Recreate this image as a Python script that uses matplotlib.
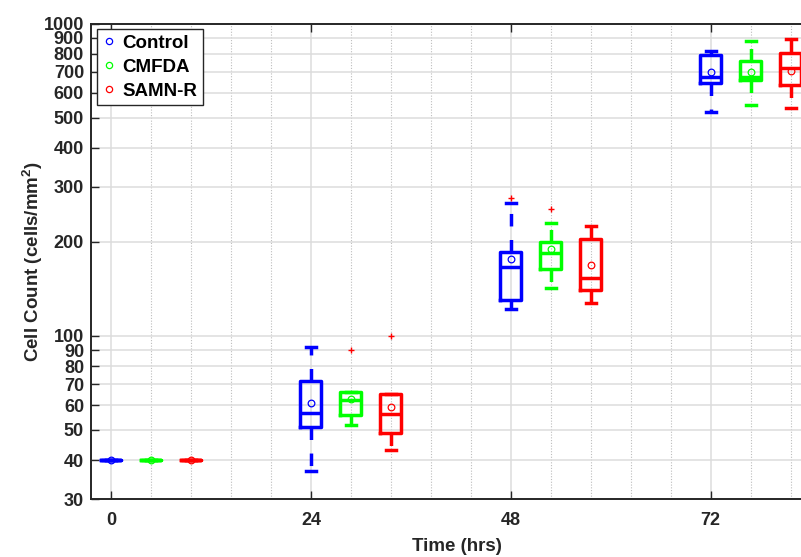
import matplotlib
matplotlib.use('Agg')
import matplotlib.pyplot as plt
from matplotlib.ticker import MultipleLocator, NullLocator, FixedLocator

plt.rcParams['font.family'] = ['Liberation Sans', 'DejaVu Sans']
plt.rcParams['font.weight'] = 'bold'
plt.rcParams['mathtext.fontset'] = 'custom'
plt.rcParams['mathtext.rm'] = 'Liberation Sans:bold'
plt.rcParams['mathtext.bf'] = 'Liberation Sans:bold'

# time points (hrs) and groups
times = [0, 24, 48, 72]
groups = ['Control', 'CMFDA', 'SAMN-R']
colors = ['#0000ff', '#00ff00', '#ff0000']

# box statistics (cells/mm^2)
control_lo = [40, 37.0, 122, 521]
control_q1 = [40, 51.0, 130, 644]
control_med = [40, 56.7, 166, 673]
control_q3 = [40, 71.6, 186, 793]
control_hi = [40, 92.2, 266, 819]
control_mean = [40, 61.0, 176, 701]
control_fliers = [[], [], [276], []]

cmfda_lo = [40, 51.9, 142, 547]
cmfda_q1 = [40, 55.9, 163, 659]
cmfda_med = [40, 62.3, 184, 673]
cmfda_q3 = [40, 66.0, 199, 760]
cmfda_hi = [40, 66.0, 229, 881]
cmfda_mean = [40, 62.8, 189, 701]
cmfda_fliers = [[], [90], [255], []]

samn_lo = [40, 43.0, 127, 536]
samn_q1 = [40, 48.7, 140, 634]
samn_med = [40, 56.0, 153, 719]
samn_q3 = [40, 65.0, 204, 807]
samn_hi = [40, 65.0, 225, 894]
samn_mean = [40, 59.3, 169, 705]
samn_fliers = [[], [100], [], []]

yticks = [30, 40, 50, 60, 70, 80, 90, 100, 200, 300, 400, 500, 600, 700, 800, 900, 1000]

data = [
    (control_lo, control_q1, control_med, control_q3, control_hi, control_mean, control_fliers),
    (cmfda_lo, cmfda_q1, cmfda_med, cmfda_q3, cmfda_hi, cmfda_mean, cmfda_fliers),
    (samn_lo, samn_q1, samn_med, samn_q3, samn_hi, samn_mean, samn_fliers),
]
group_step = 4.8
lw = 2.5

fig = plt.figure(figsize=(8.01, 5.57), dpi=100)
ax = fig.add_axes([0.1136, 0.1041, 0.914, 0.8537])
ax.set_yscale('log')

handles = []
for g, (lo, q1, med, q3, hi, mean, fl) in enumerate(data):
    stats = []
    for i in range(len(times)):
        stats.append(dict(whislo=lo[i], q1=q1[i], med=med[i], q3=q3[i],
                          whishi=hi[i], mean=mean[i], fliers=fl[i]))
    c = colors[g]
    pos = [t + g * group_step for t in times]
    ax.bxp(stats, positions=pos, widths=2.5, capwidths=1.2,
           showmeans=True, manage_ticks=False,
           boxprops=dict(color=c, linewidth=lw),
           medianprops=dict(color=c, linewidth=lw),
           whiskerprops=dict(color=c, linewidth=lw, linestyle=(0, (3.6, 3.9))),
           capprops=dict(color=c, linewidth=lw),
           meanprops=dict(marker='o', markerfacecolor='none', markeredgecolor=c,
                          markersize=4.8, markeredgewidth=0.9),
           flierprops=dict(marker='+', markeredgecolor='#ff0000', markersize=4.5,
                           markeredgewidth=1.0, linestyle='none'))
    h, = ax.plot([], [], linestyle='none', marker='o', markerfacecolor='none',
                 markeredgecolor=c, markersize=4.5, markeredgewidth=0.9)
    handles.append(h)

ax.set_xlim(-2.4, 85.5)
ax.set_ylim(30, 1000)
ax.set_xticks(times)
ax.xaxis.set_minor_locator(MultipleLocator(4.8))
ax.yaxis.set_major_locator(FixedLocator(yticks))
ax.yaxis.set_minor_locator(NullLocator())
ax.set_yticklabels([str(v) for v in yticks])

ax.set_axisbelow(True)
ax.grid(True, which='major', axis='both', color='#dcdcdc', linewidth=1.1, linestyle='-')
ax.grid(True, which='minor', axis='x', color='#bdbdbd', linewidth=0.8, linestyle=(0, (1, 1.5)))

for s in ax.spines.values():
    s.set_color('#262626')
    s.set_linewidth(1.4)

ax.tick_params(which='major', direction='in', length=6, width=1.0, color='#262626',
               top=True, right=True, labelsize=13, labelcolor='#262626')
ax.tick_params(which='minor', length=0)
ax.tick_params(axis='x', pad=9)
ax.tick_params(axis='y', pad=5)

ax.set_xlabel('Time (hrs)', fontsize=13.5, fontweight='bold', color='#262626')
ax.set_ylabel(r'Cell Count (cells/mm$^{2}$)', fontsize=13.5, fontweight='bold', color='#262626')
ax.xaxis.set_label_coords(0.5, -0.082)
ax.yaxis.set_label_coords(-0.063, 0.5)

leg = ax.legend(handles, groups, loc='upper left', bbox_to_anchor=(0.0078, 0.9878),
                borderaxespad=0, fancybox=False, framealpha=1, edgecolor='#262626',
                prop=dict(size=13.5, weight='bold'), handlelength=0.7,
                handletextpad=0.35, borderpad=0.3, labelspacing=0.36)
leg.get_frame().set_linewidth(1.0)

fig.savefig('out.png', dpi=100)
